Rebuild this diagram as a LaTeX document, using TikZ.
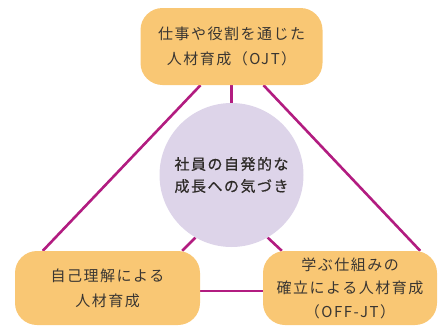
\documentclass[tikz,border=0pt]{standalone}
\usepackage{fontspec}
\newfontfamily\jp[LetterSpace=10]{Noto Sans CJK JP}
\newfontfamily\jpbold[LetterSpace=10, FakeBold=0.6]{Noto Sans CJK JP}
\usetikzlibrary{calc, backgrounds}
\definecolor{boxfill}{RGB}{249,199,116}
\definecolor{circfill}{RGB}{221,212,233}
\definecolor{linkcol}{RGB}{178,28,128}
\definecolor{textgray}{RGB}{58,54,50}
\begin{document}
\begin{tikzpicture}[
    x=1pt, y=-1pt,
    box/.style={rectangle, fill=boxfill, rounded corners=22pt, align=center, text=textgray, font=\jp\fontsize{15}{25}\selectfont},
    hub/.style={circle, fill=circfill, minimum size=144pt, inner sep=0pt, align=center, text=textgray!80!black, font=\jpbold\fontsize{15}{22}\selectfont},
    link/.style={draw=linkcol, line width=2.6pt}
]
\useasboundingbox (0,0) rectangle (439,327);

% Boxes and center circle
\node[box, minimum width=182pt, minimum height=77pt] (ojt) at (231.5,46.5) {仕事や役割を通じた\\人材育成（OJT）};
\node[box, minimum width=185pt, minimum height=74pt] (self) at (107.5,288) {自己理解による\\人材育成};
\node[box, minimum width=174pt, minimum height=74pt, font=\jp\fontsize{15}{23.5}\selectfont] (offjt) at (350,288) {学ぶ仕組みの\\確立による人材育成\\（OFF-JT）};
\node[hub] (aware) at (231.5,175) {社員の自発的な\\成長への気づき};

% Connectors behind everything
\begin{scope}[on background layer]
\path[link] ($(ojt.south)+(-31,0)$) -- ($(self.north west)+(28,0)$);
\path[link] ($(ojt.south)+(32,0)$) -- ($(offjt.north east)+(-17,0)$);
\path[link] (ojt) -- (aware);
\path[link] ($(self.east)+(0,3)$) -- ($(offjt.west)+(0,3)$);
\path[link] (aware.240) -- ($(self.north east)+(-18,0)$);
\path[link] (aware.300) -- ($(offjt.north west)+(19,0)$);
\end{scope}
\end{tikzpicture}
\end{document}
